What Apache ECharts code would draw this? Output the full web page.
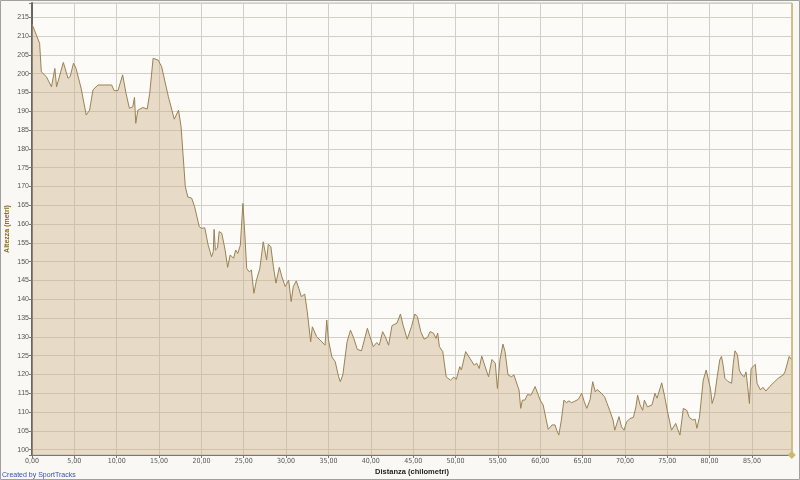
<!DOCTYPE html>
<html><head><meta charset="utf-8">
<script src="https://cdn.jsdelivr.net/npm/echarts@6/dist/echarts.min.js"></script>
<style>html,body{margin:0;padding:0;background:#F9F8F4}#c{width:800px;height:480px}</style>
</head><body><div id="c"></div>
<script>
// Distance along the route (km)
const distanceKm = [
 0, 0.9, 1.1, 1.7, 2.3, 2.5, 2.7, 2.9, 3.7, 4.25, 4.5, 4.9, 5.2, 5.8, 6.4, 6.8, 7.2, 7.8, 9.4, 9.7,
 10.15, 10.7, 11.1, 11.5, 11.9, 12.1, 12.25, 12.5, 13.1, 13.6, 13.9, 14.3, 14.9, 15.3, 16.1, 16.8, 17.3, 17.6, 18.1, 18.4,
 18.85, 19.2, 19.75, 20.0, 20.4, 20.8, 21.2, 21.4, 21.5, 21.65, 21.9, 22.1, 22.4, 22.8, 23.1, 23.4, 23.8, 24.05, 24.3, 24.6,
 24.9, 25.1, 25.35, 25.65, 25.9, 26.2, 26.5, 26.9, 27.3, 27.5, 27.7, 27.9, 28.2, 28.5, 28.8, 29.2, 29.5, 29.9, 30.1, 30.3,
 30.6, 30.85, 31.2, 31.5, 31.8, 32.2, 32.5, 32.9, 33.1, 33.6, 34.0, 34.2, 34.6, 34.8, 35.0, 35.4, 35.8, 36.2, 36.4, 36.7,
 37.2, 37.6, 38.0, 38.4, 38.9, 39.1, 39.6, 39.9, 40.3, 40.7, 41.0, 41.4, 41.7, 42.1, 42.5, 42.7, 43.1, 43.5, 43.8, 44.3,
 44.8, 45.2, 45.5, 45.9, 46.3, 46.7, 47.0, 47.4, 47.7, 47.9, 48.1, 48.5, 48.9, 49.4, 49.8, 50.1, 50.5, 50.7, 51.2, 51.7,
 52.2, 52.5, 52.8, 53.1, 53.5, 53.9, 54.3, 54.7, 54.95, 55.25, 55.6, 55.85, 56.2, 56.6, 56.9, 57.3, 57.5, 57.7, 57.9, 58.2,
 58.5, 58.9, 59.1, 59.4, 59.7, 60.0, 60.35, 60.7, 60.95, 61.4, 61.75, 61.95, 62.2, 62.5, 62.8, 63.1, 63.4, 63.7, 64.0, 64.2,
 64.5, 64.9, 65.2, 65.5, 65.9, 66.2, 66.5, 66.7, 67.05, 67.6, 67.9, 68.2, 68.6, 68.8, 69.0, 69.3, 69.6, 69.9, 70.2, 70.6,
 71.0, 71.3, 71.5, 71.8, 72.1, 72.3, 72.65, 73.2, 73.55, 73.8, 74.35, 74.7, 75.0, 75.25, 75.5, 75.7, 76.0, 76.2, 76.5, 76.9,
 77.3, 77.6, 78.0, 78.3, 78.5, 78.8, 79.0, 79.25, 79.6, 79.8, 80.1, 80.3, 80.6, 80.9, 81.2, 81.4, 81.6, 81.8, 82.2, 82.6,
 82.8, 83.0, 83.3, 83.5, 83.8, 84.1, 84.3, 84.5, 84.7, 84.9, 85.1, 85.4, 85.6, 86.0, 86.3, 86.65, 87.1, 87.5, 88.1, 88.7,
 88.9, 89.4, 89.7
];
// Elevation (m)
const elevationM = [
 213.2, 208.1, 200.5, 199.2, 196.5, 196.4, 201.4, 196.5, 203.0, 198.8, 199.2, 202.8, 201.4, 196.1, 189.0, 190.3, 195.7, 197.0, 197.0, 195.5,
 195.5, 199.7, 194.8, 190.8, 191.2, 193.7, 186.8, 190.3, 191.0, 190.6, 194.8, 204.1, 203.6, 201.9, 193.9, 187.9, 190.3, 185.9, 170.0, 167.2,
 166.9, 164.6, 159.3, 158.9, 159.0, 154.4, 151.3, 152.7, 158.6, 153.1, 153.6, 158.0, 157.6, 153.1, 148.5, 151.8, 150.9, 153.1, 152.2, 154.4,
 165.5, 158.4, 148.2, 147.3, 147.8, 141.6, 145.1, 148.2, 155.3, 155.3, 150.5, 154.6, 154.0, 148.7, 144.3, 148.5, 146.0, 143.4, 143.4, 145.1,
 139.4, 143.4, 144.9, 142.9, 140.7, 141.4, 136.7, 128.7, 132.7, 130.1, 129.2, 129.6, 127.8, 134.5, 129.2, 124.7, 123.4, 119.4, 118.1, 119.9,
 128.7, 131.8, 129.6, 126.7, 126.3, 126.5, 132.3, 130.1, 127.4, 128.5, 127.8, 131.4, 130.1, 127.8, 133.0, 132.6, 133.7, 136.1, 133.2, 129.4,
 132.7, 136.1, 135.4, 131.4, 129.4, 129.9, 131.4, 131.0, 129.6, 131.0, 127.4, 126.1, 119.4, 118.5, 119.3, 118.7, 122.1, 121.2, 126.1, 124.3,
 122.5, 123.0, 121.6, 124.9, 122.1, 119.4, 124.0, 123.0, 116.3, 123.9, 128.1, 126.1, 119.9, 119.4, 119.9, 117.2, 115.9, 111.0, 113.2, 113.2,
 114.7, 114.5, 115.4, 116.8, 115.0, 113.2, 111.9, 108.1, 105.4, 106.6, 106.6, 105.2, 103.9, 107.9, 113.2, 112.5, 113.0, 112.5, 112.8, 112.5,
 113.4, 115.0, 112.8, 111.0, 113.4, 118.1, 115.4, 116.0, 115.4, 114.1, 112.3, 110.5, 107.9, 105.2, 106.6, 108.8, 106.1, 105.2, 107.4, 108.3,
 108.6, 111.4, 114.5, 111.9, 110.5, 113.2, 111.4, 111.9, 115.0, 113.7, 117.8, 114.1, 110.5, 107.9, 105.2, 104.8, 107.0, 105.7, 103.9, 111.0,
 110.5, 108.6, 107.9, 108.1, 105.7, 108.6, 109.0, 118.5, 121.2, 121.4, 116.3, 112.3, 114.5, 119.4, 123.9, 124.8, 122.5, 119.0, 118.1, 117.7,
 123.0, 126.3, 125.2, 121.2, 119.9, 119.4, 120.7, 116.8, 112.3, 121.6, 121.2, 122.7, 117.7, 115.9, 116.6, 115.6, 116.8, 117.7, 119.0, 119.9,
 120.7, 124.8, 123.9
];
const xAxisRange = [0, 89.73];
const yAxisRange = [98.6, 218.8];
const tickStep = 5;
const xAxisTitle = 'Distanza (chilometri)';
const yAxisTitle = 'Altezza (metri)';
const creditText = 'Created by SportTracks';

const seriesData = distanceKm.map((d, i) => [d, elevationM[i]]);
const onStep = v => Math.abs(v / tickStep - Math.round(v / tickStep)) < 1e-6;
const fmtX = v => onStep(v) ? v.toFixed(2).replace('.', ',') : '';
const fmtY = v => onStep(v) ? String(Math.round(v)) : '';

const chart = echarts.init(document.getElementById('c'), null, {renderer: 'canvas'});
chart.setOption({
  animation: false,
  backgroundColor: '#F9F8F4',
  title: {
    text: creditText, left: 2, bottom: 1, padding: 0,
    textStyle: {fontSize: 7, color: '#3A4FB0', fontWeight: 'normal', fontFamily: 'Liberation Sans'}
  },
  grid: {left: 32, right: 8, top: 3, bottom: 25, containLabel: false, outerBoundsMode: 'none',
    show: true, backgroundColor: '#FCFBF8', borderColor: '#C4C1B9', borderWidth: 1},
  xAxis: {
    type: 'value', min: xAxisRange[0], max: xAxisRange[1], minInterval: tickStep, maxInterval: tickStep, splitNumber: 18,
    name: xAxisTitle, nameLocation: 'middle', nameGap: 13, nameMoveOverlap: false,
    nameTextStyle: {fontSize: 7.5, fontWeight: 'bold', color: '#222', fontFamily: 'Liberation Sans'},
    axisLine: {onZero: false, lineStyle: {color: '#777', width: 1}},
    axisTick: {show: true, length: 3, lineStyle: {color: '#777'}},
    axisLabel: {formatter: fmtX, fontSize: 7, color: '#555', margin: 3, fontFamily: 'Liberation Sans Narrow, DejaVu Sans Condensed, sans-serif'},
    splitLine: {show: true, lineStyle: {color: '#D2CFC7', width: 1}}
  },
  yAxis: {
    type: 'value', min: yAxisRange[0], max: yAxisRange[1], minInterval: tickStep, maxInterval: tickStep, splitNumber: 24,
    name: yAxisTitle, nameLocation: 'middle', nameGap: 21, nameRotate: 90, nameMoveOverlap: false,
    nameTextStyle: {fontSize: 7, fontWeight: 'bold', color: '#8C6A1E', fontFamily: 'Liberation Sans'},
    axisLine: {show: true, onZero: false, lineStyle: {color: '#666', width: 2}},
    axisTick: {show: true, length: 3, lineStyle: {color: '#777'}},
    axisLabel: {formatter: fmtY, fontSize: 7, color: '#555', margin: 3, fontFamily: 'Liberation Sans'},
    splitLine: {show: true, lineStyle: {color: '#D2CFC7', width: 1}}
  },
  graphic: [{type: 'rect', silent: true, z: 100, shape: {x: 0.5, y: 0.5, width: 799, height: 479}, style: {fill: 'none', stroke: '#A0A0A0', lineWidth: 1}}],
  series: [{
    type: 'line', data: seriesData, showSymbol: false, smooth: false,
    lineStyle: {color: '#9A8254', width: 1},
    areaStyle: {color: 'rgba(203,173,130,0.6)', origin: 'start'},
    markLine: {
      silent: true, symbol: ['diamond', 'none'], symbolSize: 8, animation: false,
      label: {show: false},
      lineStyle: {color: '#CDB96E', type: 'solid', width: 1.5},
      data: [{xAxis: distanceKm[distanceKm.length - 1]}]
    }
  }]
});
</script></body></html>
